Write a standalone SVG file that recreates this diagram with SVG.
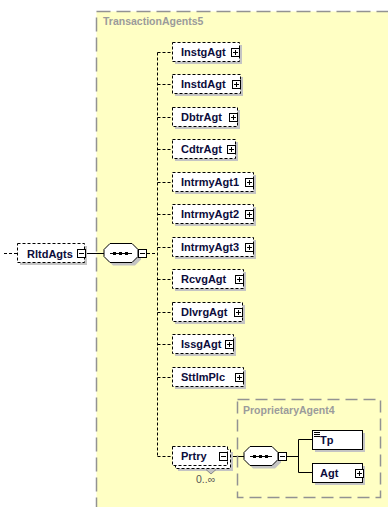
<svg xmlns="http://www.w3.org/2000/svg" width="388" height="507" viewBox="0 0 388 507">
<defs>
<style>
.sh{fill:#c4c4c4}
.opt{fill:#fff;stroke:#000;stroke-width:1;stroke-dasharray:3 2}
.req{fill:#fff;stroke:#000;stroke-width:1}
.lbl{font-family:"Liberation Sans",Arial,sans-serif;font-weight:bold;font-size:11px;fill:#0b0b3b}
.ttl{font-family:"Liberation Sans",Arial,sans-serif;font-weight:bold;font-size:10.5px;fill:#9b9b9b}
.occ{font-family:"Liberation Sans",Arial,sans-serif;font-size:10.5px;fill:#555}
.ln{stroke:#000;fill:none;stroke-width:1}
.dl{stroke:#000;fill:none;stroke-width:1;stroke-dasharray:3 2}
.grp{fill:none;stroke:#929292;stroke-width:1.5;stroke-dasharray:14 6}
</style>
<g id="plus"><rect x="0.5" y="0.5" width="8" height="8" fill="#fff" stroke="#000"/><path d="M2 4.5H7M4.5 2V7" stroke="#000"/></g>
<g id="minus"><rect x="0.5" y="0.5" width="8" height="8" fill="#fff" stroke="#000"/><path d="M2 4.5H7" stroke="#000"/></g>
</defs>

<rect x="96.5" y="11.5" width="320" height="520" fill="#ffffc4" class="grp" style="fill:#ffffc4"/>
<text class="ttl" x="103" y="25">TransactionAgents5</text>

<g id="connectors">
<path class="dl" d="M4 253.5H17"/>
<path class="ln" d="M85 253.5H104"/>
<path class="dl" d="M147 253.5H157.5"/>
<path class="dl" d="M157.5 52.5V456.5"/>
<path class="dl" d="M157.5 52.5H172M157.5 84.5H172M157.5 117.5H172M157.5 149.5H172M157.5 182.5H172M157.5 214.5H172M157.5 247.5H172M157.5 279.5H172M157.5 312.5H172M157.5 344.5H172M157.5 377.5H172M157.5 456.5H172"/>
<path class="ln" d="M228 456.5H244"/>
<path class="ln" d="M287 456.5H298.5M298.5 439.5V472.5M298.5 439.5H312M298.5 472.5H312"/>
</g>

<g id="RltdAgts">
<rect class="sh" x="20" y="246" width="67" height="19"/>
<rect class="opt" x="17.5" y="243.5" width="67" height="19"/>
<text class="lbl" x="27" y="257.5">RltdAgts</text>
<use href="#minus" x="77" y="249"/>
</g>

<g id="seq1">
<path class="sh" d="M113 246.5H135L141 252.5V259.5L135 265.5H113L107 259.5V252.5Z"/>
<path class="req" d="M110 243.5H132L138 249.5V256.5L132 262.5H110L104 256.5V249.5Z"/>
<path class="ln" d="M110 253.5H132"/>
<rect x="113" y="252" width="3" height="3" fill="#000"/>
<rect x="119" y="252" width="3" height="3" fill="#000"/>
<rect x="125" y="252" width="3" height="3" fill="#000"/>
<use href="#minus" x="138" y="249"/>
</g>

<g id="InstgAgt">
<rect class="sh" x="175" y="45" width="67" height="19"/>
<rect class="opt" x="172.5" y="42.5" width="67" height="19"/>
<text class="lbl" x="181" y="56">InstgAgt</text>
<use href="#plus" x="231" y="48"/>
</g>
<g id="InstdAgt">
<rect class="sh" x="175" y="77" width="68" height="19"/>
<rect class="opt" x="172.5" y="74.5" width="68" height="19"/>
<text class="lbl" x="181" y="88">InstdAgt</text>
<use href="#plus" x="232" y="80"/>
</g>
<g id="DbtrAgt">
<rect class="sh" x="175" y="110" width="65" height="19"/>
<rect class="opt" x="172.5" y="107.5" width="65" height="19"/>
<text class="lbl" x="181" y="121">DbtrAgt</text>
<use href="#plus" x="229" y="113"/>
</g>
<g id="CdtrAgt">
<rect class="sh" x="175" y="142" width="63" height="19"/>
<rect class="opt" x="172.5" y="139.5" width="63" height="19"/>
<text class="lbl" x="181" y="153">CdtrAgt</text>
<use href="#plus" x="227" y="145"/>
</g>
<g id="IntrmyAgt1">
<rect class="sh" x="175" y="175" width="81" height="19"/>
<rect class="opt" x="172.5" y="172.5" width="81" height="19"/>
<text class="lbl" x="181" y="186">IntrmyAgt1</text>
<use href="#plus" x="245" y="178"/>
</g>
<g id="IntrmyAgt2">
<rect class="sh" x="175" y="207" width="81" height="19"/>
<rect class="opt" x="172.5" y="204.5" width="81" height="19"/>
<text class="lbl" x="181" y="218">IntrmyAgt2</text>
<use href="#plus" x="245" y="210"/>
</g>
<g id="IntrmyAgt3">
<rect class="sh" x="175" y="240" width="81" height="19"/>
<rect class="opt" x="172.5" y="237.5" width="81" height="19"/>
<text class="lbl" x="181" y="251">IntrmyAgt3</text>
<use href="#plus" x="245" y="243"/>
</g>
<g id="RcvgAgt">
<rect class="sh" x="175" y="272" width="71" height="19"/>
<rect class="opt" x="172.5" y="269.5" width="71" height="19"/>
<text class="lbl" x="181" y="283">RcvgAgt</text>
<use href="#plus" x="235" y="275"/>
</g>
<g id="DlvrgAgt">
<rect class="sh" x="175" y="305" width="70" height="19"/>
<rect class="opt" x="172.5" y="302.5" width="70" height="19"/>
<text class="lbl" x="181" y="316">DlvrgAgt</text>
<use href="#plus" x="234" y="308"/>
</g>
<g id="IssgAgt">
<rect class="sh" x="175" y="337" width="61" height="19"/>
<rect class="opt" x="172.5" y="334.5" width="61" height="19"/>
<text class="lbl" x="181" y="348">IssgAgt</text>
<use href="#plus" x="225" y="340"/>
</g>
<g id="SttlmPlc">
<rect class="sh" x="175" y="370" width="71" height="19"/>
<rect class="opt" x="172.5" y="367.5" width="71" height="19"/>
<text class="lbl" x="181" y="381">SttlmPlc</text>
<use href="#plus" x="235" y="373"/>
</g>

<g id="ProprietaryAgent4">
<rect class="grp" x="237.5" y="399.5" width="143" height="98" style="stroke-dasharray:12 6"/>
<text class="ttl" x="243" y="414">ProprietaryAgent4</text>
</g>

<g id="Prtry">
<rect class="sh" x="178" y="452" width="55" height="19"/>
<rect class="opt" x="175.5" y="449.5" width="55" height="19"/>
<path d="M206 469.5L211 474L216 469.5" fill="#c4c4c4" stroke="#888"/>
<rect class="opt" x="172.5" y="446.5" width="55" height="19"/>
<text class="lbl" x="181" y="460">Prtry</text>
<use href="#minus" x="219" y="452"/>
<text class="occ" x="196" y="483">0..∞</text>
</g>

<g id="seq2">
<path class="sh" d="M253 449.5H275L281 455.5V462.5L275 468.5H253L247 462.5V455.5Z"/>
<path class="req" d="M250 446.5H272L278 452.5V459.5L272 465.5H250L244 459.5V452.5Z"/>
<path class="ln" d="M250 456.5H272"/>
<rect x="253" y="455" width="3" height="3" fill="#000"/>
<rect x="259" y="455" width="3" height="3" fill="#000"/>
<rect x="265" y="455" width="3" height="3" fill="#000"/>
<use href="#minus" x="278" y="452"/>
</g>

<g id="Tp">
<rect class="sh" x="315" y="433" width="50" height="19"/>
<rect class="req" x="312.5" y="430.5" width="50" height="19"/>
<path class="ln" d="M314 432.5H320M314 434.5H320M314 436.5H320"/>
<text class="lbl" x="320" y="444">Tp</text>
</g>
<g id="Agt">
<rect class="sh" x="315" y="466" width="50" height="19"/>
<rect class="req" x="312.5" y="463.5" width="50" height="19"/>
<text class="lbl" x="320" y="477">Agt</text>
<use href="#plus" x="355" y="469"/>
</g>
</svg>
